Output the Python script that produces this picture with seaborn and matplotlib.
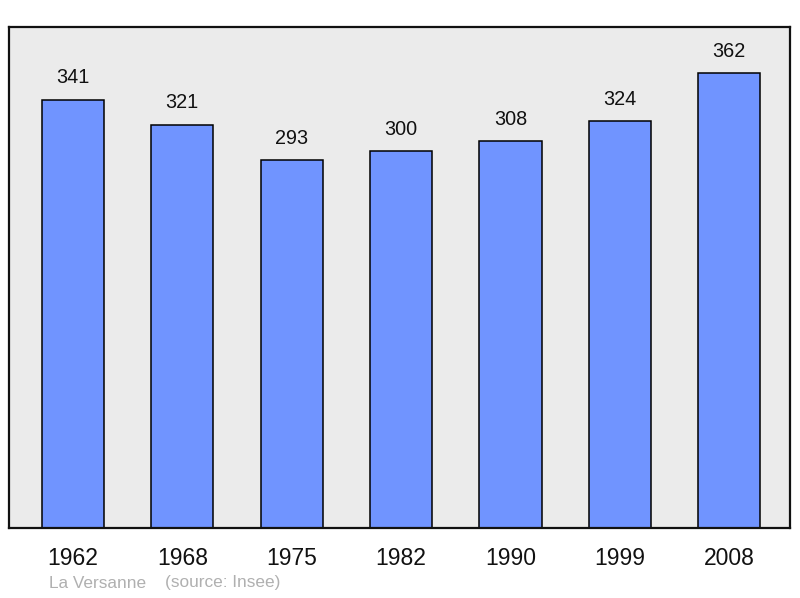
import matplotlib
matplotlib.use('Agg')
import matplotlib.pyplot as plt
import seaborn as sns
import pandas as pd

years = ['1962', '1968', '1975', '1982', '1990', '1999', '2008']
population = [341, 321, 293, 300, 308, 324, 362]

df = pd.DataFrame({'year': years, 'pop': population})

sns.set_style('white')
plt.rcParams['font.family'] = ['Liberation Sans', 'DejaVu Sans']

fig = plt.figure(figsize=(8, 5.98), dpi=100)
ax = fig.add_axes([0.01125, 0.117, 0.976, 0.838])
ax.set_facecolor('#ebebeb')

sns.barplot(data=df, x='year', y='pop', color='#7094ff', saturation=1,
            width=0.57, edgecolor='black', linewidth=1.1, ax=ax)

for i, v in enumerate(population):
    ax.annotate(str(v), (i, v), xytext=(0, 9), textcoords='offset points',
                ha='center', va='bottom', fontsize=14.3, color='#111111')

ax.set_xlim(-0.585, 6.555)
ax.set_ylim(0, 399)
ax.set_yticks([])
ax.set_xlabel('')
ax.set_ylabel('')
ax.tick_params(axis='x', length=0, labelsize=16.5, pad=13.5, labelcolor='#111111')
for s in ax.spines.values():
    s.set_color('#111111')
    s.set_linewidth(1.6)

fig.text(49 / 800, 1 - 583 / 598, 'La Versanne', fontsize=12.4,
         color='#b0b0b0', ha='left', va='center')
fig.text(165 / 800, 1 - 583 / 598, '(source: Insee)', fontsize=12.4,
         color='#b0b0b0', ha='left', va='center')

fig.savefig('out.png', dpi=100)
